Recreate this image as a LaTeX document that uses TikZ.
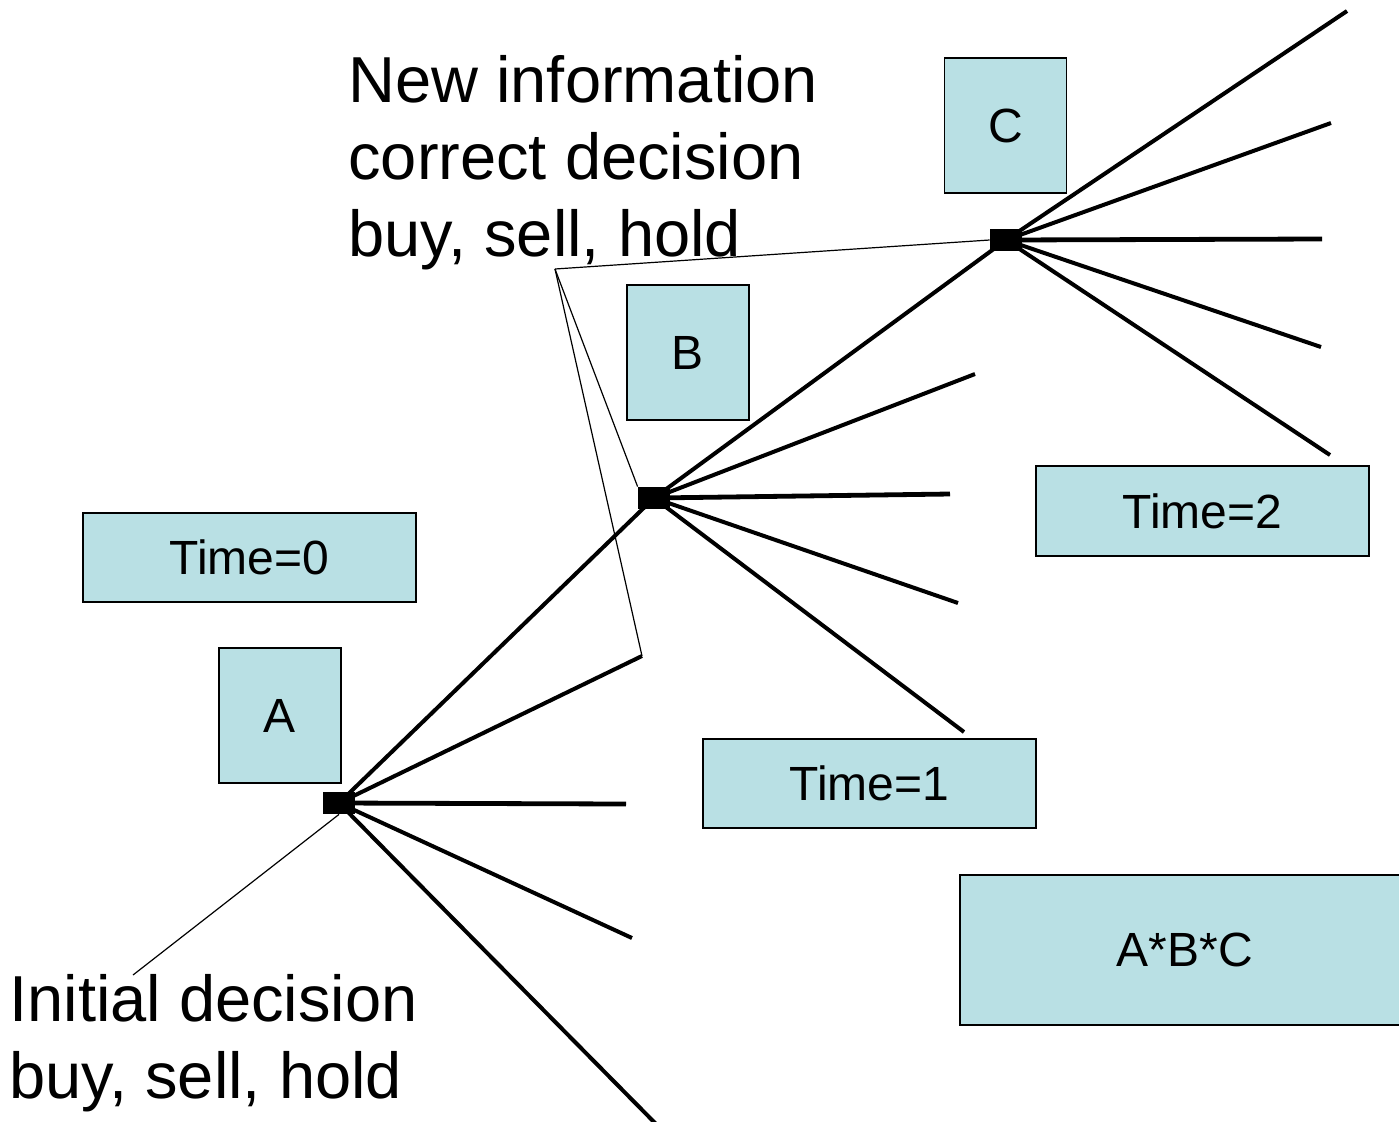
\documentclass[tikz,border=0pt]{standalone}
\usepackage{fontspec}
\setmainfont{Liberation Sans}
\definecolor{cellblue}{RGB}{185,224,228}

\begin{document}
\begin{tikzpicture}[x=0.5pt,y=0.5pt,yscale=-1,
  cell/.style={draw, fill=cellblue, line width=0.9pt, inner sep=0pt, font=\fontsize{24}{29}\selectfont},
  decision/.style={fill=black, inner sep=0pt, minimum width=16pt, minimum height=11pt},
  branch/.style={line width=2pt},
  callout/.style={line width=0.6pt},
  caption/.style={anchor=base west, inner sep=0pt, align=left, font=\fontsize{32.5}{38.5}\selectfont}]
\clip (0,0) rectangle (1399,1121);
\fill[white] (0,0) rectangle (1399,1121);

%Shape: Rectangle [time labels]
\node[cell, minimum width=166.5pt, minimum height=44.5pt] (time0) at (249.5,557.5) {Time=0};
\node[cell, minimum width=166.5pt, minimum height=44.5pt] (time1) at (869.5,783.5) {Time=1};
\node[cell, minimum width=166.5pt, minimum height=45pt] (time2) at (1202.5,511) {Time=2};
%Shape: Rectangle [decision labels]
\node[cell, minimum width=61pt, minimum height=67.5pt] (boxA) at (280,715.5) {A};
\node[cell, minimum width=61pt, minimum height=67.5pt] (boxB) at (688,352.5) {B};
\node[cell, minimum width=61pt, minimum height=67.5pt] (boxC) at (1005.5,125.5) {C};
%Shape: Rectangle [product]
\node[cell, minimum width=225pt, minimum height=75pt] (prod) at (1185,950) {A*B*C};

%Decision points
\node[decision] (dA) at (339,803) {};
\node[decision] (dB) at (654,498) {};
\node[decision] (dC) at (1006,240) {};

%Branch ends
\coordinate (a2) at (642,656);
\coordinate (a3) at (626,804);
\coordinate (a4) at (632,938);
\coordinate (a5) at (656,1124);
\coordinate (b2) at (975,374);
\coordinate (b3) at (950,494);
\coordinate (b4) at (958,603);
\coordinate (b5) at (964,732);
\coordinate (c1) at (1347,11);
\coordinate (c2) at (1331,123);
\coordinate (c3) at (1322,239);
\coordinate (c4) at (1321,347);
\coordinate (c5) at (1330,455);

%Straight Lines [branches from A]
\draw[branch] (dA.center) -- (dB.center);
\draw[branch] (dA.center) -- (a2);
\draw[branch, line width=2.4pt] (dA.center) -- (a3);
\draw[branch] (dA.center) -- (a4);
\draw[branch] (dA.center) -- (a5);
%Straight Lines [branches from B]
\draw[branch] (dB.center) -- (dC.center);
\draw[branch] (dB.center) -- (b2);
\draw[branch, line width=2.4pt] (dB.center) -- (b3);
\draw[branch] (dB.center) -- (b4);
\draw[branch] (dB.center) -- (b5);
%Straight Lines [branches from C]
\draw[branch] (dC.center) -- (c1);
\draw[branch] (dC.center) -- (c2);
\draw[branch, line width=2.4pt] (dC.center) -- (c3);
\draw[branch] (dC.center) -- (c4);
\draw[branch] (dC.center) -- (c5);

%Callouts
\coordinate (callTop) at (555,269);
\coordinate (callBot) at (133,975);
\draw[callout] (callTop) -- (dC.west);
\draw[callout] (callTop) -- (dB.north west);
\draw[callout] (callTop) -- (a2);
\draw[callout] (dA.south) -- (callBot);

\node[decision] at (dA) {};
\node[decision] at (dB) {};
\node[decision] at (dC) {};

% Text Node
\node[caption] (newinfo) at (348,256) {New information\\correct decision\\buy, sell, hold};
% Text Node
\node[caption] (initial) at (9,1098) {Initial decision\\buy, sell, hold};
\end{tikzpicture}
\end{document}
